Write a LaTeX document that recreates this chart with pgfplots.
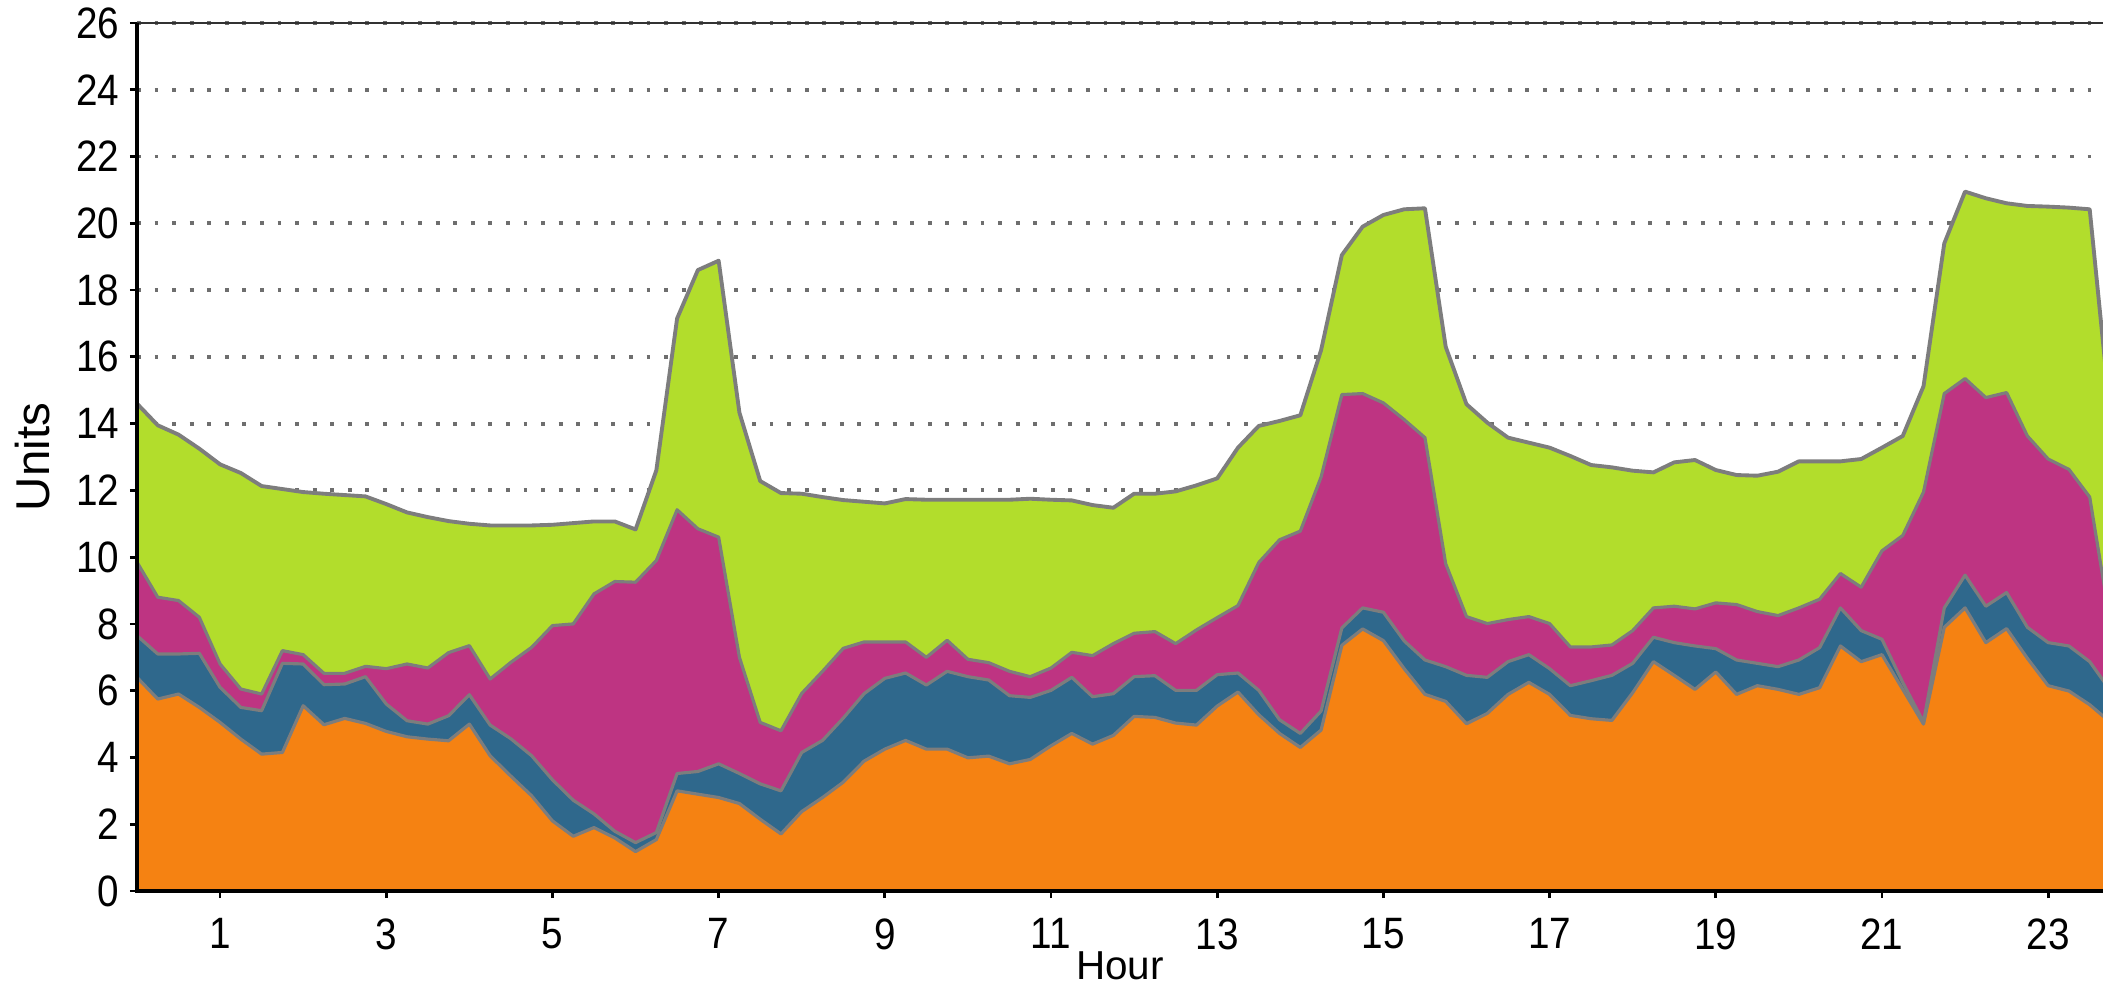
\documentclass[border=0pt]{standalone}
\usepackage{fontspec}
\setmainfont{Liberation Sans}[FakeStretch=0.88]
\newfontfamily\plainsans{Liberation Sans}
\usepackage{pgfplots}
\usepackage{pgfplotstable}
\pgfplotsset{compat=1.18}
\definecolor{cO}{RGB}{245,130,18}
\definecolor{cB}{RGB}{47,104,140}
\definecolor{cM}{RGB}{190,52,130}
\definecolor{cG}{RGB}{178,221,44}
\definecolor{cL}{RGB}{125,125,125}
\definecolor{cGrid}{RGB}{110,110,110}
\definecolor{cTop}{RGB}{50,50,50}
% cumulative boundaries: b1 orange top, b2 blue top, b3 magenta top, b4 green top
\pgfplotstableread{
h     b1    b2    b3     b4
0.00  6.40  7.65  9.85  14.60
0.25  5.75  7.10  8.80  13.95
0.50  5.90  7.10  8.70  13.67
0.75  5.50  7.12  8.20  13.25
1.00  5.05  6.10  6.80  12.78
1.25  4.55  5.50  6.05  12.52
1.50  4.10  5.40  5.90  12.13
1.75  4.15  6.82  7.20  12.04
2.00  5.55  6.80  7.08  11.95
2.25  4.98  6.18  6.52  11.90
2.50  5.17  6.20  6.52  11.86
2.75  5.02  6.42  6.73  11.82
3.00  4.78  5.60  6.66  11.59
3.25  4.62  5.10  6.80  11.34
3.50  4.55  5.00  6.68  11.20
3.75  4.50  5.25  7.14  11.08
4.00  5.00  5.88  7.35  11.00
4.25  4.05  4.97  6.35  10.95
4.50  3.44  4.56  6.85  10.95
4.75  2.85  4.05  7.30  10.95
5.00  2.10  3.33  7.95  10.97
5.25  1.64  2.72  8.00  11.02
5.50  1.90  2.31  8.90  11.07
5.75  1.59  1.79  9.27  11.07
6.00  1.18  1.45  9.25  10.83
6.25  1.54  1.75  9.90  12.60
6.50  3.00  3.52 11.42  17.15
6.75  2.90  3.58 10.85  18.60
7.00  2.80  3.81 10.60  18.88
7.25  2.62  3.52  7.00  14.33
7.50  2.15  3.21  5.05  12.28
7.75  1.71  3.00  4.80  11.92
8.00  2.38  4.15  5.92  11.90
8.25  2.80  4.51  6.58  11.80
8.50  3.26  5.18  7.27  11.71
8.75  3.89  5.91  7.46  11.66
9.00  4.25  6.37  7.46  11.61
9.25  4.51  6.53  7.46  11.74
9.50  4.25  6.17  7.00  11.72
9.75  4.25  6.58  7.51  11.72
10.00 3.99  6.42  6.94  11.72
10.25 4.04  6.32  6.84  11.72
10.50 3.81  5.85  6.58  11.72
10.75 3.94  5.80  6.42  11.75
11.00 4.35  6.01  6.68  11.72
11.25 4.72  6.40  7.15  11.70
11.50 4.40  5.82  7.05  11.56
11.75 4.66  5.91  7.41  11.48
12.00 5.23  6.42  7.72  11.90
12.25 5.20  6.45  7.77  11.90
12.50 5.03  6.01  7.41  11.97
12.75 4.97  6.01  7.82  12.15
13.00 5.54  6.48  8.19  12.36
13.25 5.96  6.53  8.55  13.28
13.50 5.28  6.01  9.84  13.93
13.75 4.72  5.13 10.52  14.08
14.00 4.30  4.72 10.78  14.25
14.25 4.82  5.39 12.40  16.20
14.50 7.36  7.88 14.87  19.05
14.75 7.85  8.48 14.90  19.90
15.00 7.50  8.35 14.62  20.25
15.25 6.66  7.49 14.12  20.42
15.50 5.89  6.92 13.58  20.45
15.75 5.68  6.72  9.80  16.30
16.00 5.01  6.46  8.22  14.58
16.25 5.32  6.40  8.01  14.03
16.50 5.89  6.87  8.13  13.58
16.75 6.25  7.08  8.22  13.43
17.00 5.89  6.66  8.01  13.28
17.25 5.26  6.15  7.31  13.03
17.50 5.16  6.30  7.31  12.76
17.75 5.11  6.46  7.37  12.69
18.00 5.94  6.82  7.80  12.59
18.25 6.87  7.60  8.48  12.54
18.50 6.46  7.44  8.53  12.84
18.75 6.04  7.34  8.45  12.91
19.00 6.56  7.26  8.63  12.61
19.25 5.89  6.92  8.58  12.46
19.50 6.15  6.82  8.37  12.44
19.75 6.04  6.72  8.25  12.56
20.00 5.89  6.92  8.48  12.87
20.25 6.09  7.29  8.74  12.87
20.50 7.34  8.48  9.51  12.87
20.75 6.87  7.80  9.10  12.94
21.00 7.08  7.54 10.19  13.28
21.25 6.04  6.25 10.65  13.63
21.50 5.00  5.06 11.95  15.12
21.75 7.90  8.48 14.90  19.40
22.00 8.48  9.46 15.35  20.95
22.25 7.44  8.53 14.78  20.75
22.50 7.86  8.94 14.93  20.60
22.75 6.97  7.90 13.63  20.52
23.00 6.15  7.44 12.94  20.50
23.25 5.99  7.34 12.63  20.47
23.50 5.58  6.87 11.80  20.42
23.75 5.05  6.00  8.00  14.20
}\data

\begin{document}
\begin{tikzpicture}
\begin{axis}[
  at={(0,0)}, anchor=south west,
  width=19.66cm, height=8.68cm, scale only axis,
  xmin=0, xmax=23.66, ymin=0, ymax=26,
  xtick={1,3,...,23}, ytick={0,2,...,26},
  axis lines*=left,
  axis line style={black, line width=0.9pt},
  tick align=outside, major tick length=0.07cm,
  tick style={black, line width=0.8pt},
  ymajorgrids,
  grid style={cGrid, line width=1.1pt, dash pattern=on 1.1pt off 3.9pt},
  /pgf/number format/assume math mode=true,
  ticklabel style={font=\fontsize{12.5}{14}\selectfont, inner sep=0pt},
  xticklabel style={anchor=north, yshift=-0.2cm},
  yticklabel style={anchor=east, xshift=-0.1cm},
  xlabel={Hour}, ylabel={Units},
  xlabel style={at={(axis description cs:0.5,-0.069)}, anchor=north, inner sep=0pt, font=\plainsans\fontsize{11.5}{13}\selectfont},
  ylabel style={at={(axis description cs:-0.0529,0.5)}, anchor=center, inner sep=0pt, font=\plainsans\fontsize{13.5}{16}\selectfont},
]
\addplot[fill=cG, draw=none] table[x=h,y=b4]{\data} \closedcycle;
\addplot[fill=cM, draw=none] table[x=h,y=b3]{\data} \closedcycle;
\addplot[fill=cB, draw=none] table[x=h,y=b2]{\data} \closedcycle;
\addplot[fill=cO, draw=none] table[x=h,y=b1]{\data} \closedcycle;
\addplot[cL, line width=0.9pt, line join=round, mark=none] table[x=h,y=b1]{\data};
\addplot[cL, line width=0.9pt, line join=round, mark=none] table[x=h,y=b2]{\data};
\addplot[cL, line width=0.9pt, line join=round, mark=none] table[x=h,y=b3]{\data};
\addplot[cL, line width=1.1pt, line join=round, mark=none] table[x=h,y=b4]{\data};
\coordinate (O) at (rel axis cs:0,0);
\coordinate (TL) at (rel axis cs:0,1);
\coordinate (BR) at (rel axis cs:1,0);
\coordinate (TR) at (rel axis cs:1,1);
\end{axis}
\draw[cTop, line width=0.7pt] (TL) -- (TR);
\draw[black, line width=0.9pt] (TL) -- (O) -- (BR);
\pgfresetboundingbox
\path[use as bounding box] (-1.37,-1.01) rectangle (19.66,8.91);
\end{tikzpicture}
\end{document}
